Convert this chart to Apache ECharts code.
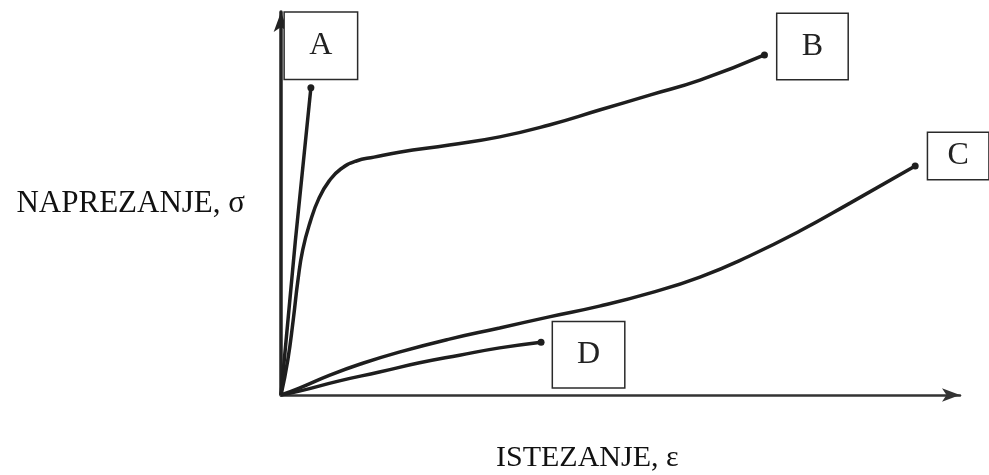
<!DOCTYPE html>
<html>
<head>
<meta charset="utf-8">
<script src="https://cdn.jsdelivr.net/npm/echarts@6/dist/echarts.min.js"></script>
<style>
  html, body { margin: 0; padding: 0; background: #fff; }
  #chart { width: 989px; height: 475px; }
</style>
</head>
<body>
<div id="chart"></div>
<script>
// krivulje naprezanje - istezanje, [istezanje, naprezanje] u relativnim jedinicama 0-100
const curveA = [[0, 0], [2.1, 40], [4.4, 80.2]]
const curveB = [[0, 0], [1.0, 9.1], [1.8, 19.6], [2.5, 30.0], [3.2, 37.9], [4.3, 45.2], [5.6, 51.4],
  [7.1, 55.9], [8.8, 59.0], [11.1, 61.1], [13.7, 62.1], [17.4, 63.4], [24.8, 65.3], [32.2, 67.4],
  [39.5, 70.5], [46.9, 74.4], [54.3, 78.3], [61.7, 82.2], [71.2, 88.8]]
const curveC = [[0, 0], [2.7, 1.8], [7.2, 5.2], [11.7, 8.1], [17.4, 11.2], [24.8, 14.6],
  [32.2, 17.5], [39.5, 20.4], [46.9, 23.2], [54.3, 26.6], [61.7, 30.8], [69.0, 36.3], [76.4, 42.8],
  [83.8, 50.1], [93.4, 59.8]]
const curveD = [[0, 0], [2.7, 1.0], [8.6, 3.7], [14.5, 6.0], [20.4, 8.4], [26.3, 10.4], [32.2, 12.3], [38.3, 13.8]]
const curveNames = ['A', 'B', 'C', 'D']
const xName = 'ISTEZANJE, ε'
const yName = 'NAPREZANJE, σ'

const lineColor = '#1e1e1e'
const serif = 'Liberation Serif, Times New Roman, serif'

// kutija s oznakom: pomak sredine od krajnje tocke, sirina, visina
const boxes = {
  A: { dx: 10, dy: -42, w: 72, h: 66 },
  B: { dx: 48, dy: -8.5, w: 70, h: 65 },
  C: { dx: 43, dy: -10, w: 60, h: 46 },
  D: { dx: 47.5, dy: 12.5, w: 71, h: 65 }
}

const symSize = 7

function buildSeries(name, pts) {
  const b = boxes[name]
  const data = pts.map((p, i) => {
    if (i < pts.length - 1) return { value: p, symbol: 'none' }
    return {
      value: p,
      symbol: 'circle',
      symbolSize: symSize,
      label: {
        show: true,
        formatter: name,
        position: [b.dx + symSize / 2, b.dy + symSize / 2],
        align: 'center',
        verticalAlign: 'middle',
        width: b.w,
        height: b.h,
        lineHeight: b.h,
        padding: 0,
        backgroundColor: '#fff',
        borderColor: '#2a2a2a',
        borderWidth: 1.5,
        color: '#222',
        fontFamily: serif,
        fontSize: 32
      }
    }
  })
  return {
    name: name,
    type: 'line',
    smooth: 0.5,
    showAllSymbol: true,
    data: data,
    itemStyle: { color: lineColor },
    lineStyle: { color: lineColor, width: 3.5 },
    label: { show: false },
    z: 3
  }
}

const chart = echarts.init(document.getElementById('chart'))
chart.setOption({
  animation: false,
  backgroundColor: '#fff',
  title: {
    text: xName,
    left: 491,
    top: 438,
    textStyle: { fontFamily: serif, fontSize: 30, fontWeight: 'normal', color: '#111' }
  },
  grid: { left: 281, top: 12, width: 679, height: 383 },
  xAxis: {
    type: 'value',
    min: 0,
    max: 100,
    axisLine: {
      show: true,
      symbol: ['none', 'arrow'],
      symbolSize: [10, 18],
      lineStyle: { color: '#333', width: 2.5 }
    },
    axisTick: { show: false },
    axisLabel: { show: false },
    splitLine: { show: false }
  },
  yAxis: {
    type: 'value',
    min: 0,
    max: 100,
    name: yName,
    nameLocation: 'middle',
    nameRotate: 0,
    nameGap: 36,
    nameTextStyle: { fontFamily: serif, fontSize: 31, color: '#111' },
    axisLine: {
      show: true,
      symbol: ['none', 'arrow'],
      symbolSize: [11, 20],
      lineStyle: { color: '#222', width: 3.5 }
    },
    axisTick: { show: false },
    axisLabel: { show: false },
    splitLine: { show: false }
  },
  series: [
    buildSeries(curveNames[0], curveA),
    buildSeries(curveNames[1], curveB),
    buildSeries(curveNames[2], curveC),
    buildSeries(curveNames[3], curveD)
  ]
})
</script>
</body>
</html>
